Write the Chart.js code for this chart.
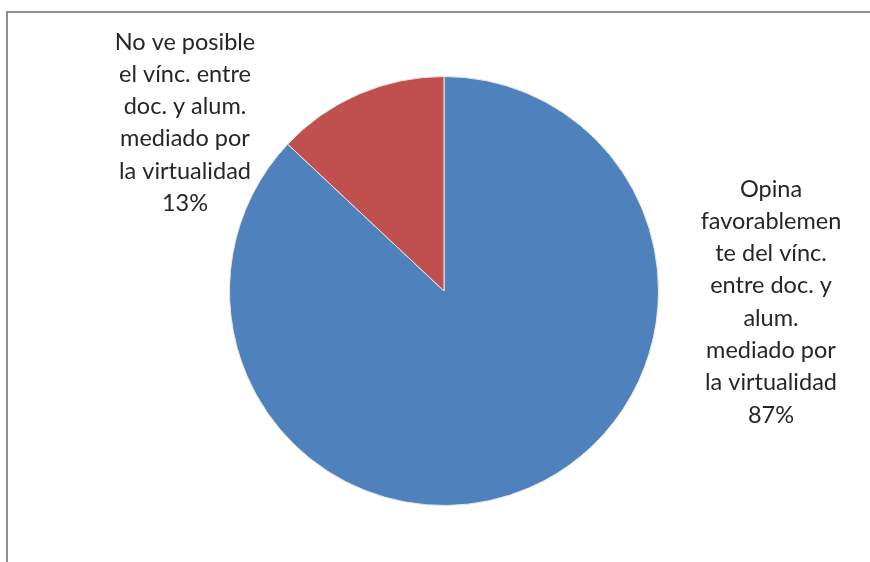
<!DOCTYPE html>
<html>
<head>
<meta charset="utf-8">
<script src="https://cdn.jsdelivr.net/npm/chart.js@4"></script>
<style>
  html, body { margin: 0; padding: 0; background: #fff; }
  #wrap { position: relative; width: 870px; height: 562px; overflow: hidden; }
  #frame {
    position: absolute; left: 6px; top: 11px; right: -4px; bottom: -4px;
    border-top: 2px solid #8e8e8e; border-left: 2px solid #8e8e8e;
  }
  #pie { position: absolute; left: 0; top: 0; }
</style>
</head>
<body>
<div id="wrap">
  <div id="frame"></div>
  <canvas id="pie" width="870" height="562"></canvas>
</div>
<script>
// categories, wrapped the way the labels are printed
var categories = [
  ['Opina', 'favorablemen', 'te del vínc.', 'entre doc. y', 'alum.', 'mediado por', 'la virtualidad'],
  ['No ve posible', 'el vínc. entre', 'doc. y alum.', 'mediado por', 'la virtualidad']
];
var values = [87, 13];
var colors = ['#4f81bd', '#c0504d'];

// where each label block sits (center x, first line y), relative to the pie center
var labelOffsets = [
  { dx: 327, dy: -102 },
  { dx: -259, dy: -249 }
];
var lineHeight = 32.3;

var outsideLabels = {
  id: 'outsideLabels',
  afterDraw: function (chart) {
    var ctx = chart.ctx;
    var arc = chart.getDatasetMeta(0).data[0];
    var total = values.reduce(function (a, b) { return a + b; }, 0);
    ctx.save();
    ctx.font = '23.5px Lato, "Open Sans", sans-serif';
    ctx.fillStyle = '#262626';
    ctx.textAlign = 'center';
    ctx.textBaseline = 'middle';
    categories.forEach(function (lines, i) {
      var pct = Math.round(values[i] / total * 100) + '%';
      var all = lines.concat([pct]);
      var x = arc.x + labelOffsets[i].dx;
      var y = arc.y + labelOffsets[i].dy;
      all.forEach(function (t, k) {
        ctx.fillText(t, x, y + k * lineHeight);
      });
    });
    ctx.restore();
  }
};

var ctx = document.getElementById('pie').getContext('2d');
var chart = new Chart(ctx, {
  type: 'pie',
  data: {
    labels: categories.map(function (c) { return c.join(' '); }),
    datasets: [{
      data: values,
      backgroundColor: colors,
      borderColor: '#e8e8e8',
      borderWidth: 1
    }]
  },
  options: {
    responsive: false,
    animation: false,
    layout: { padding: { top: 76, bottom: 56, left: 229, right: 211 } },
    plugins: { legend: { display: false }, tooltip: { enabled: false } }
  },
  plugins: [outsideLabels]
});
</script>
</body>
</html>
